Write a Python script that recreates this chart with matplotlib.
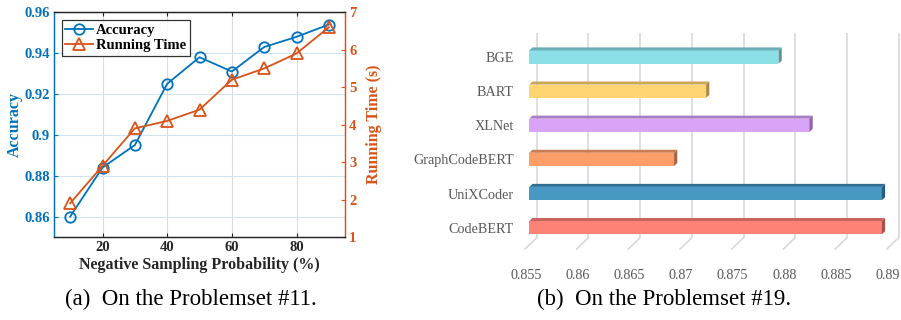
import matplotlib
matplotlib.use("Agg")
import matplotlib.pyplot as plt
from matplotlib.patches import Polygon, Rectangle
import numpy as np

# ---------------- data ----------------
neg_prob = [10, 20, 30, 40, 50, 60, 70, 80, 90]
accuracy = [0.860, 0.884, 0.895, 0.925, 0.938, 0.931, 0.943, 0.948, 0.954]
run_time = [1.9, 2.9, 3.9, 4.1, 4.4, 5.2, 5.5, 5.9, 6.6]
acc_ticks = [0.86, 0.88, 0.90, 0.92, 0.94, 0.96]
acc_ticklabels = ["0.86", "0.88", "0.9", "0.92", "0.94", "0.96"]
time_ticks = [1, 2, 3, 4, 5, 6, 7]
x_ticks = [20, 40, 60, 80]

models = ["CodeBERT", "UniXCoder", "GraphCodeBERT", "XLNet", "BART", "BGE"]
model_acc = [0.8891, 0.8891, 0.8690, 0.8821, 0.8721, 0.8791]
bar_ticks = [0.855, 0.86, 0.865, 0.87, 0.875, 0.88, 0.885, 0.89]
bar_ticklabels = ["0.855", "0.86", "0.865", "0.87", "0.875", "0.88", "0.885", "0.89"]
front_colors = ["#FF8277", "#4799C4", "#FD9E68", "#D9A3F8", "#FFD572", "#8BE0E7"]
top_colors = ["#C9645C", "#2F6F93", "#C97B52", "#A97CC6", "#C9A655", "#68AEB4"]
side_colors = ["#A9524B", "#255C7B", "#A96444", "#8E66A7", "#A98A45", "#56969B"]

caption_a = "(a)  On the Problemset #11."
caption_b = "(b)  On the Problemset #19."

# ---------------- style ----------------
W, H, DPI = 901, 320, 100
serif = ["Liberation Serif", "DejaVu Serif"]
plt.rcParams["font.family"] = serif

BLUE = "#0072BD"
ORANGE = "#D95319"
DARK = "#262626"

fig = plt.figure(figsize=(W / DPI, H / DPI), dpi=DPI)

# ================= left chart =================
axL = fig.add_axes([54 / W, 1 - 237 / H, (345 - 54) / W, (237 - 12.3) / H])
axR = axL.twinx()

axL.plot(neg_prob, accuracy, color=BLUE, lw=1.3, marker="o", ms=7.5,
         mfc="none", mec=BLUE, mew=1.3, label="Accuracy", zorder=3)
axR.plot(neg_prob, run_time, color=ORANGE, lw=1.3, marker="^", ms=8.5,
         mfc="none", mec=ORANGE, mew=1.3, label="Running Time", zorder=3)

axL.set_xlim(5, 95)
axL.set_ylim(0.85, 0.96)
axR.set_ylim(1, 7)
axL.set_xticks(x_ticks)
axL.set_yticks(acc_ticks)
axL.set_yticklabels(acc_ticklabels)
axR.set_yticks(time_ticks)

# grid
for xv in x_ticks:
    axL.axvline(xv, color="#DCDCDC", lw=0.8, zorder=0)
for yv in acc_ticks:
    axL.axhline(yv, color="#D3E4F3", lw=0.8, zorder=0)

tick_fp = matplotlib.font_manager.FontProperties(family=serif, weight="bold", size=10.5)
for lab in axL.get_xticklabels():
    lab.set_fontproperties(tick_fp)
    lab.set_color(DARK)
for lab in axL.get_yticklabels():
    lab.set_fontproperties(tick_fp)
    lab.set_color(BLUE)
for lab in axR.get_yticklabels():
    lab.set_fontproperties(tick_fp)
    lab.set_color(ORANGE)

axL.tick_params(axis="x", direction="in", length=3, width=0.8, color=DARK,
                top=True, pad=3)
axL.tick_params(axis="y", direction="in", length=3, width=0.8, color=BLUE, pad=3)
axR.tick_params(axis="y", direction="in", length=3, width=0.8, color=ORANGE, pad=3)

for ax in (axL, axR):
    ax.spines["top"].set_color(DARK)
    ax.spines["bottom"].set_color(DARK)
    ax.spines["left"].set_color(BLUE)
    ax.spines["right"].set_color(ORANGE)
    for s in ax.spines.values():
        s.set_linewidth(0.9)

axL.set_xlabel("Negative Sampling Probability (%)", fontsize=11.5,
               fontweight="bold", color=DARK, labelpad=2)
axL.set_ylabel("Accuracy", fontsize=11.5, fontweight="bold", color=BLUE,
               labelpad=1)
axR.set_ylabel("Running Time (s)", fontsize=11.5, fontweight="bold",
               color=ORANGE, labelpad=7)

h1, l1 = axL.get_legend_handles_labels()
h2, l2 = axR.get_legend_handles_labels()
leg = axR.legend(h1 + h2, l1 + l2, loc="upper left",
                 bbox_to_anchor=(7.7 / 291, 1 - 7.7 / 224.7),
                 prop=dict(family=serif, weight="bold", size=10.5),
                 frameon=True, fancybox=False, edgecolor="black",
                 borderpad=0.25, labelspacing=0.15, handlelength=1.9,
                 handletextpad=0.2, borderaxespad=0.0)
leg.get_frame().set_linewidth(0.9)

fig.text(191 / W, 1 - 299 / H, caption_a, ha="center", va="center",
         fontsize=16.5, family=serif, color="black")

# ================= right chart (pseudo-3D bars) =================
x0b, x1b = 536.7, 898.6
y_top, y_bot = 33.0, 237.7
axB = fig.add_axes([x0b / W, 1 - y_bot / H, (x1b - x0b) / W, (y_bot - y_top) / H])
xmin, xmax = 0.855, 0.89
axB.set_xlim(xmin, xmax)
axB.set_ylim(-0.5, len(models) - 0.5)
for s in axB.spines.values():
    s.set_visible(False)

ppx = (x1b - x0b) / (xmax - xmin)          # pixels per x data unit
ppy = (y_bot - y_top) / len(models)         # pixels per y data unit

def dx(px):
    return px / ppx

def dy(px):
    return px / ppy

GRID = "#D9D9D9"
# back-wall gridlines and floor diagonals
for xv in bar_ticks:
    axB.plot([xv, xv], [-0.5, len(models) - 0.5], color=GRID, lw=1.2,
             zorder=0, clip_on=False, solid_capstyle="butt")
    axB.plot([xv, xv + dx(-11.7)], [-0.5, -0.5 + dy(-11.3)], color=GRID,
             lw=1.2, zorder=0, clip_on=False)

# bars
fdx, fdy = -7.4, -7.0      # front face offset (px)
bdx, bdy = -4.2, -4.0      # back face offset (px)
bh = 0.39
for i, (val, fc, tc, sc) in enumerate(zip(model_acc, front_colors,
                                          top_colors, side_colors)):
    yt = i + bh / 2
    yb = i - bh / 2
    axB.add_patch(Rectangle((xmin + dx(fdx), yb + dy(fdy)), val - xmin, bh,
                            facecolor=fc, edgecolor="none", zorder=3,
                            clip_on=False))
    top = [(xmin + dx(fdx), yt + dy(fdy)), (val + dx(fdx), yt + dy(fdy)),
           (val + dx(bdx), yt + dy(bdy)), (xmin + dx(bdx), yt + dy(bdy))]
    axB.add_patch(Polygon(top, closed=True, facecolor=tc, edgecolor="none",
                          zorder=3, clip_on=False))
    side = [(val + dx(fdx), yt + dy(fdy)), (val + dx(fdx), yb + dy(fdy)),
            (val + dx(bdx), yb + dy(bdy)), (val + dx(bdx), yt + dy(bdy))]
    axB.add_patch(Polygon(side, closed=True, facecolor=sc, edgecolor="none",
                          zorder=3, clip_on=False))

axB.set_xticks(bar_ticks)
axB.set_xticklabels(bar_ticklabels)
axB.set_yticks(range(len(models)))
axB.set_yticklabels(models)
axB.tick_params(axis="both", length=0)
axB.tick_params(axis="x", pad=22.5, labelsize=10.2, labelcolor="#595959")
axB.tick_params(axis="y", pad=16.5, labelsize=10.2, labelcolor="#595959")
shift_x = matplotlib.transforms.ScaledTranslation(-11.0 / DPI, 0, fig.dpi_scale_trans)
shift_y = matplotlib.transforms.ScaledTranslation(0, -7.0 / DPI, fig.dpi_scale_trans)
for lab in axB.get_xticklabels():
    lab.set_transform(lab.get_transform() + shift_x)
for lab in axB.get_yticklabels():
    lab.set_transform(lab.get_transform() + shift_y)

fig.text(664 / W, 1 - 299 / H, caption_b, ha="center", va="center",
         fontsize=16.5, family=serif, color="black")

fig.savefig("out.png", dpi=DPI)
